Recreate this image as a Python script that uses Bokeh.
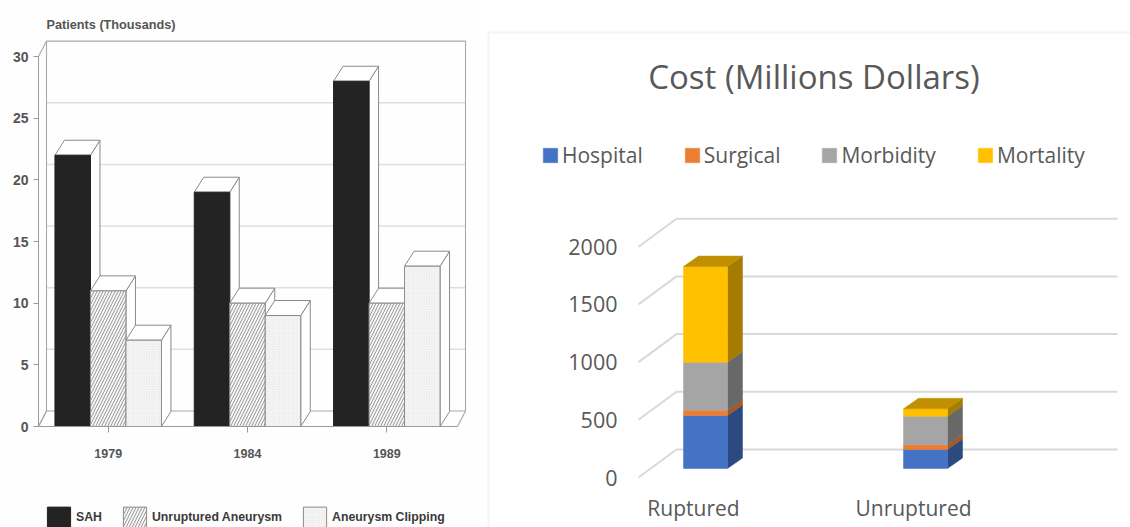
from bokeh.embed import file_html
from bokeh.resources import INLINE
from bokeh.layouts import row
from bokeh.models import (BoxAnnotation, ColumnDataSource, FixedTicker, Label,
                          Legend, LegendItem, Range1d)
from bokeh.plotting import figure
import numpy as np

# Patients per year (thousands)
years = [1979, 1984, 1989]
sah = [22, 19, 28]
unruptured = [11, 10, 10]
clipping = [7, 9, 13]
patient_ticks = [0, 5, 10, 15, 20, 25, 30]

# Cost per aneurysm type (millions of dollars)
cost_categories = ["Ruptured", "Unruptured"]
hospital = [460, 165]
surgical = [45, 40]
morbidity = [415, 248]
mortality = [830, 64]
cost_ticks = [0, 500, 1000, 1500, 2000]

# ---------- left panel: patients ----------
LW, H = 480, 527
YEAR_PX, UNIT_PX = 27.86, 12.33
ORIGIN_X, ORIGIN_Y = 107.7, 426.0
BW = 35.5 / YEAR_PX          # bar width in years
BDX, BDY = 9.5 / YEAR_PX, 15 / UNIT_PX     # bar depth
WDX, WDY = 8 / YEAR_PX, 15.5 / UNIT_PX     # wall depth
AX0 = 1979 + (38 - ORIGIN_X) / YEAR_PX
AX1 = 1979 + (457 - ORIGIN_X) / YEAR_PX

left = figure(width=LW, height=H, output_backend="svg", toolbar_location=None,
              min_border=0, outline_line_color=None, background_fill_color="#fefefe",
              border_fill_color="#fefefe",
              x_range=Range1d(1979 - ORIGIN_X / YEAR_PX, 1979 + (LW - ORIGIN_X) / YEAR_PX),
              y_range=Range1d(-(H - ORIGIN_Y) / UNIT_PX, ORIGIN_Y / UNIT_PX))
left.grid.visible = False

AXIS_FONT = "Liberation Sans"
INK = "#555555"
left.xaxis.fixed_location = 0
left.xaxis.bounds = (AX0, AX1)
left.xaxis.ticker = FixedTicker(ticks=years)
left.xaxis.major_label_overrides = {y: str(y) for y in years}
left.xaxis.major_tick_in = 0
left.xaxis.major_tick_out = 6
left.xaxis.minor_tick_line_color = None
left.xaxis.major_label_standoff = 16
left.xaxis.major_label_text_font_size = "12.5px"
left.yaxis.fixed_location = AX0
left.yaxis.bounds = (0, 30)
left.yaxis.ticker = FixedTicker(ticks=patient_ticks)
left.yaxis.major_tick_in = 0
left.yaxis.major_tick_out = 5
left.yaxis.minor_tick_line_color = None
left.yaxis.major_label_standoff = 5
left.yaxis.major_label_orientation = "horizontal"
left.yaxis.major_label_text_font_size = "14px"
for ax in (left.xaxis, left.yaxis):
    ax.axis_line_color = "#9a9a9a"
    ax.major_tick_line_color = "#9a9a9a"
    ax.major_label_text_font = AXIS_FONT
    ax.major_label_text_font_style = "bold"
    ax.major_label_text_color = INK

# back wall, floor and rules
left.multi_line([[AX0 + WDX, AX1 + WDX] for _ in patient_ticks[1:-1]],
                [[t + WDY, t + WDY] for t in patient_ticks[1:-1]],
                line_color="#dedede", line_width=1.5)
left.multi_line(
    [[AX0, AX0 + WDX, AX1 + WDX], [AX0, AX0 + WDX, AX0 + WDX], [AX0 + WDX, AX1 + WDX, AX1 + WDX],
     [AX0, AX0 + WDX], [AX1, AX1 + WDX]],
    [[0, WDY, WDY], [30, 30 + WDY, WDY], [30 + WDY, 30 + WDY, WDY], [0, WDY], [0, WDY]],
    line_color="#a8a8a8", line_width=1.1)

series = [
    ("SAH", sah, -BW, dict(fill_color="#232323", line_color="#232323")),
    ("Unruptured Aneurysm", unruptured, 0.0,
     dict(fill_color="#f4f4f4", line_color="#8a8a8a", hatch_pattern="right_diagonal_line",
          hatch_color="#9c9c9c", hatch_scale=6, hatch_weight=1)),
    ("Aneurysm Clipping", clipping, BW,
     dict(fill_color="#f6f6f6", line_color="#8a8a8a", hatch_pattern="dot",
          hatch_color="#dddddd", hatch_scale=2.5, hatch_weight=1)),
]
legend_items = []
for name, vals, off, style in series:
    xl = np.array(years) + off - BW / 2
    xr = xl + BW
    tops = np.array(vals, dtype=float)
    xs_top = [[a, b, b + BDX, a + BDX] for a, b in zip(xl, xr)]
    ys_top = [[t, t, t + BDY, t + BDY] for t in tops]
    xs_side = [[b, b + BDX, b + BDX, b] for b in xr]
    ys_side = [[0, BDY, t + BDY, t] for t in tops]
    left.patches(xs_side, ys_side, fill_color="#ffffff", line_color="#8a8a8a", line_width=1)
    left.patches(xs_top, ys_top, fill_color="#ffffff", line_color="#8a8a8a", line_width=1)
    src = ColumnDataSource(dict(left=xl, right=xr, bottom=[0] * 3, top=tops))
    r = left.quad(left="left", right="right", bottom="bottom", top="top", source=src, **style)
    legend_items.append(LegendItem(label=name, renderers=[r]))

left_legend = Legend(items=legend_items, orientation="horizontal", location=(44, -3),
                     margin=0, padding=0, spacing=18, label_standoff=3,
                     glyph_width=29, glyph_height=26, label_height=26,
                     background_fill_alpha=0, border_line_color=None,
                     label_text_font=AXIS_FONT, label_text_font_size="12.3px",
                     label_text_font_style="bold", label_text_color="#3a3a3a")
left.add_layout(left_legend)
left.add_layout(Label(x=46, y=H - 24, x_units="screen", y_units="screen",
                      text="Patients (Thousands)", text_font=AXIS_FONT,
                      text_font_size="12.7px", text_font_style="bold",
                      text_color=INK, text_baseline="middle"))

# ---------- right panel: cost ----------
RW = 650
PANEL_X = 480
CAT_PX, VAL_PX = 220.0, 57.7 / 500
CAT_ORIGIN = 693 - PANEL_X
ZERO_Y = 477.0
GDX, GDY = 38 / CAT_PX, 28 / VAL_PX    # floor depth
BAR_W = 44 / CAT_PX
BAR_SHIFT_X, BAR_SHIFT_Y = -10 / CAT_PX, 9 / VAL_PX
DDX, DDY = 15 / CAT_PX, 10.5 / VAL_PX  # bar depth
F0 = (638 - PANEL_X - CAT_ORIGIN) / CAT_PX
G1 = (1117 - PANEL_X - CAT_ORIGIN) / CAT_PX

right = figure(width=RW, height=H, output_backend="svg", toolbar_location=None,
               min_border=0, outline_line_color=None,
               x_range=Range1d(-CAT_ORIGIN / CAT_PX, (RW - CAT_ORIGIN) / CAT_PX),
               y_range=Range1d(-(H - ZERO_Y) / VAL_PX, ZERO_Y / VAL_PX))
right.grid.visible = False
# chart border, open towards the right and bottom edges
right.add_layout(BoxAnnotation(left=8, right=RW + 20, top=H - 32, bottom=-20,
                               left_units="screen", right_units="screen",
                               top_units="screen", bottom_units="screen",
                               fill_alpha=0, line_color="#d9d9d9", line_width=2))

FONT = "Open Sans"
TXT = "#595959"
right.xaxis.fixed_location = 0
right.xaxis.ticker = FixedTicker(ticks=[0, 1])
right.xaxis.major_label_overrides = {i: c for i, c in enumerate(cost_categories)}
right.xaxis.major_label_standoff = 10
right.xaxis.major_label_text_font_size = "21px"
right.yaxis.fixed_location = (628 - PANEL_X - CAT_ORIGIN) / CAT_PX
right.yaxis.ticker = FixedTicker(ticks=cost_ticks)
right.yaxis.major_label_standoff = 5
right.yaxis.major_label_orientation = "horizontal"
right.yaxis.major_label_text_font_size = "21.5px"
for ax in (right.xaxis, right.yaxis):
    ax.axis_line_color = None
    ax.major_tick_line_color = None
    ax.minor_tick_line_color = None
    ax.major_label_text_font = FONT
    ax.major_label_text_color = TXT

right.multi_line([[F0, F0 + GDX, G1] for _ in cost_ticks],
                 [[t, t + GDY, t + GDY] for t in cost_ticks],
                 line_color="#d9d9d9", line_width=2)

stack = [
    ("Hospital", hospital, "#4472C4", "#2A4A80"),
    ("Surgical", surgical, "#ED7D31", "#A5591F"),
    ("Morbidity", morbidity, "#A5A5A5", "#686868"),
    ("Mortality", mortality, "#FFC000", "#A67C00"),
]
xl = np.arange(len(cost_categories)) + BAR_SHIFT_X
xr = xl + BAR_W
base = np.zeros(len(cost_categories))
cost_items = []
for name, vals, front, side in stack:
    top = base + np.array(vals, dtype=float)
    right.patches([[b, b + DDX, b + DDX, b] for b in xr],
                  [[lo + BAR_SHIFT_Y, lo + BAR_SHIFT_Y + DDY, hi + BAR_SHIFT_Y + DDY, hi + BAR_SHIFT_Y]
                   for lo, hi in zip(base, top)],
                  fill_color=side, line_color=side, line_width=0.5)
    src = ColumnDataSource(dict(left=xl, right=xr, bottom=base + BAR_SHIFT_Y, top=top + BAR_SHIFT_Y))
    r = right.quad(left="left", right="right", bottom="bottom", top="top", source=src,
                   fill_color=front, line_color=front, line_width=0.5)
    cost_items.append(LegendItem(label=name, renderers=[r]))
    base = top
# lid of each stack
right.patches([[a, b, b + DDX, a + DDX] for a, b in zip(xl, xr)],
              [[t + BAR_SHIFT_Y, t + BAR_SHIFT_Y, t + BAR_SHIFT_Y + DDY, t + BAR_SHIFT_Y + DDY] for t in base],
              fill_color="#C09000", line_color="#C09000", line_width=0.5)

right_legend = Legend(items=cost_items, orientation="horizontal", location=(61, 358),
                      margin=0, padding=0, spacing=40, label_standoff=3,
                      glyph_width=18, glyph_height=18, label_height=18,
                      background_fill_alpha=0, border_line_color=None,
                      label_text_font=FONT, label_text_font_size="21px", label_text_color=TXT)
right.add_layout(right_legend)
right.add_layout(Label(x=1 / 2 * (648 + 979) - PANEL_X, y=H - 76, x_units="screen", y_units="screen",
                       text="Cost (Millions Dollars)", text_font=FONT, text_font_size="33px",
                       text_color=TXT, text_align="center", text_baseline="middle"))

page = row(left, right)
open("out.html", "w").write(file_html(page, INLINE))
